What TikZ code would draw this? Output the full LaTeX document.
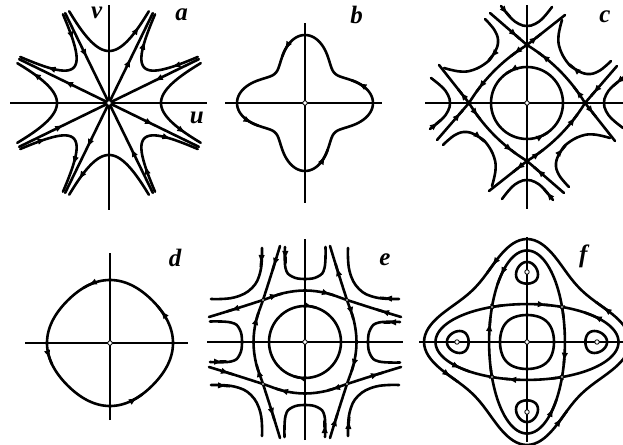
\documentclass[tikz,border=0pt]{standalone}
\usepackage{fontspec}
\setmainfont{Liberation Serif}
\usetikzlibrary{arrows.meta,decorations.markings}
\tikzset{
  curve/.style={line width=2.6pt,line cap=round,line join=round},
  axisline/.style={line width=1.4pt},
  mk/.style={decoration={markings,#1},postaction={decorate}},
  amid/.style={mk={mark=at position #1 with {\arrow{Latex[length=9pt,width=6.5pt]}}}},
  amid/.default=0.5,
  odot/.style={circle,draw,fill=white,line width=0.8pt,inner sep=0pt,minimum size=4.5pt},
  lbl/.style={font=\fontsize{25}{25}\selectfont\bfseries\itshape,inner sep=0pt},
}
\newcommand{\tipA}{\arrow{Latex[length=9pt,width=6.5pt]}}
% arrow head at (#1,#2) pointing in direction #3 (degrees)
\newcommand{\arw}[3]{\draw[curve,amid,shift={(#1,#2)}] ({#3+180}:3) -- ({#3}:3);}
\begin{document}
\begin{tikzpicture}[x=1pt,y=1pt,
 declare function={
  axr(\z)=52+48*\z*\z;
  axphi(\z)=(1-2*(\z<0))*acos(max(-1,min(1,(52/axr(\z))^3*1.242-0.242)))/4;
  dgr(\z)=50+50*\z*\z;
  dgphi(\z)=45-(1-2*(\z<0))*(45-acos(max(-1,min(1,-0.242-(50/dgr(\z))^3*0.758)))/4);
  cf(\ang)=1-cos(4*\ang)/3;
  fin(\ang,\lev)=57.2*sqrt(2*\lev/(1+sqrt(max(0,1-2*\lev*cf(\ang)))));
  fout(\ang,\lev)=57.2*sqrt((1+sqrt(max(0,1-2*\lev*cf(\ang))))/cf(\ang));
  tds(\z)=1.5+0.45826*cos(\z);
  tdphi(\z)=(1-2*(sin(\z)<0))*acos(max(-1,min(1,3*(1-2*(tds(\z)-0.68)/(tds(\z)^2)))))/4;
  br(\ang)=55+13*cos(4*\ang);
  dr(\ang)=61.5+1.5*cos(4*\ang);
 }]
\useasboundingbox[fill=white] (0,0) rectangle (623,444);

% ---------------- panel a ----------------
\begin{scope}[shift={(109,341)}]
 \draw[axisline] (-99,0) -- (98,0);
 \draw[axisline] (0,-107) -- (0,98);
 \foreach \k in {0,90,180,270}{
  \begin{scope}[rotate=\k]
   \draw[curve,amid] (26:100) -- (0,0);
   \draw[curve,amid] (0,0) -- (64:100);
   \draw[curve,amid=0.85] plot[domain=1:-1,samples=61,variable=\q] ({axphi(\q)}:{axr(\q)});
   \draw[curve,mk={mark=at position 0.25 with {\tipA},mark=at position 0.75 with {\tipA}}]
     plot[domain=1:-1,samples=61,variable=\q] ({dgphi(\q)}:{dgr(\q)});
  \end{scope}
 }
 \node[odot] (oa) at (0,0) {};
\end{scope}
\node[lbl] (la) at (181.7,429) {a};
\node[lbl] (lv) at (96.7,430.7) {v};
\node[lbl] (lu) at (196.7,325.7) {u};

% ---------------- panel b ----------------
\begin{scope}[shift={(305,341)}]
 \draw[axisline] (-80,0) -- (77,0);
 \draw[axisline] (0,-100) -- (0,80);
 \draw[curve] plot[domain=0:360,samples=181,variable=\x] (\x:{br(\x)}) -- cycle;
 \draw[curve,amid] plot[domain=16:26,samples=5,variable=\x] (\x:{br(\x)});
 \draw[curve,amid] plot[domain=106:116,samples=5,variable=\x] (\x:{br(\x)});
 \draw[curve,amid] plot[domain=196:206,samples=5,variable=\x] (\x:{br(\x)});
 \draw[curve,amid] plot[domain=286:296,samples=5,variable=\x] (\x:{br(\x)});
 \node[odot] (ob) at (0,0) {};
\end{scope}
\node[lbl] (lb) at (356.7,429) {b};

% ---------------- panel c ----------------
\begin{scope}[shift={(527,341)}]
 \draw[axisline] (-102,0) -- (96,0);
 \draw[axisline] (0,-106) -- (0,98);
 \draw[curve] (0,0) circle (36);
 \arw{-18}{31.2}{210}
 \arw{18}{-31.2}{30}
 \foreach \k in {0,90,180,270}{
  \begin{scope}[rotate=\k]
   \draw[curve] (58,0) .. controls (43.3,24) and (24,43.3) .. (0,58);
   \arw{13.8}{48.6}{143}
   \arw{48.6}{13.8}{127}
   \draw[curve] (-37,90) -- (0,58);
   \arw{-9.3}{66}{-41}
   \draw[curve] (0,58) -- (38,88);
   \arw{11.4}{67}{38}
   \draw[curve] plot[smooth,tension=0.7] coordinates {(-26,97) (-16,85) (-8,79) (0,77) (8,79) (16,85) (25,96)};
   \arw{-19}{88.5}{-50}
   \draw[curve] plot[smooth,tension=0.7] coordinates {(-42,84) (-32,72) (-29,60) (-34,48) (-41,40) (-54,33) (-67,31.5) (-83,35)};
   \arw{-36.5}{45}{230}
  \end{scope}
 }
 \node[odot] (oc) at (0,0) {};
\end{scope}
\node[lbl] (lc) at (605,427.3) {c};

% ---------------- panel d ----------------
\begin{scope}[shift={(110,101)}]
 \draw[axisline] (-85,0) -- (78,0);
 \draw[axisline] (0,-77) -- (0,90);
 \draw[curve] plot[domain=0:360,samples=181,variable=\x] (\x:{dr(\x)}) -- cycle;
 \draw[curve,amid] plot[domain=28:38,samples=5,variable=\x] (\x:{dr(\x)});
 \draw[curve,amid] plot[domain=106:116,samples=5,variable=\x] (\x:{dr(\x)});
 \draw[curve,amid] plot[domain=190:200,samples=5,variable=\x] (\x:{dr(\x)});
 \draw[curve,amid] plot[domain=292:302,samples=5,variable=\x] (\x:{dr(\x)});
 \node[odot] (od) at (0,0) {};
\end{scope}
\node[lbl] (ld) at (175,185.7) {d};

% ---------------- panel e ----------------
\begin{scope}[shift={(305,102)}]
 \draw[axisline] (-98,0) -- (98,0);
 \draw[axisline] (0,-98) -- (0,103);
 \draw[curve] (0,0) circle (36);
 \arw{8.1}{35.1}{-13}
 \arw{-8.1}{-35.1}{167}
 \foreach \k in {0,90,180,270}{
  \begin{scope}[rotate=\k]
   \draw[curve] plot[smooth,tension=0.6] coordinates {(-96,25) (-70,33) (-42,42) (-21,49) (0,51.5) (21,49) (42,42) (70,33) (96,25)};
   \arw{-75}{31.5}{197}
   \arw{-26}{47.5}{16}
   \arw{26}{47.5}{-16}
   \arw{75}{31.5}{163}
   \draw[curve] plot[smooth,tension=0.7] coordinates {(-20,95) (-19.5,74) (-13,65.5) (0,63) (13,65.5) (19.5,74) (20.5,95)};
   \arw{-19.7}{82}{-90}
   \draw[curve] plot[smooth,tension=0.7] coordinates {(-43,94) (-44.5,71) (-53,54) (-71,44.5) (-94,43)};
   \arw{-44}{78}{-94}
  \end{scope}
 }
 \node[odot] (oe) at (0,0) {};
 \node[odot,minimum size=3.5pt] (se1) at (42,42) {};
 \node[odot,minimum size=3.5pt] (se2) at (-42,42) {};
 \node[odot,minimum size=3.5pt] (se3) at (-42,-42) {};
 \node[odot,minimum size=3.5pt] (se4) at (42,-42) {};
\end{scope}
\node[lbl] (le) at (385,184) {e};

% ---------------- panel f ----------------
\begin{scope}[shift={(527,102)}]
 \draw[axisline] (-108,0) -- (96,0);
 \draw[axisline] (0,-100) -- (0,105);
 \draw[curve] plot[domain=0:360,samples=181,variable=\x] (\x:{fin(\x,0.206)}) -- cycle;
 \draw[curve] plot[domain=0:360,samples=289,variable=\x] (\x:{fin(\x,0.375)}) -- cycle;
 \draw[curve] plot[domain=0:360,samples=289,variable=\x] (\x:{fout(\x,0.375)}) -- cycle;
 \draw[curve] plot[domain=0:360,samples=181,variable=\x] (\x:{fout(\x,-0.26)}) -- cycle;
 \foreach \k in {0,90,180,270}{
  \begin{scope}[rotate=\k]
   \draw[curve] plot[domain=0:360,samples=73,variable=\x] ({tdphi(\x)}:{57.2*sqrt(tds(\x))}) -- cycle;
   \draw[curve,amid] plot[domain=20:30,samples=5,variable=\x] (\x:{fout(\x,-0.26)});
   \draw[curve,amid] plot[domain=17:27,samples=5,variable=\x] (\x:{fout(\x,0.375)});
   \draw[curve,amid] plot[domain=40:34,samples=5,variable=\x] (\x:{fin(\x,0.375)});
   \draw[curve,amid] plot[domain=65:59,samples=5,variable=\x] (\x:{fin(\x,0.375)});
  \end{scope}
 }
 \node[odot] (of) at (0,0) {};
 \foreach \k in {0,90,180,270}{
  \node[odot,minimum size=4.5pt] (ft\k) at (\k:70) {};
  \node[odot,minimum size=3.5pt] (fs\k) at (\k+45:49.5) {};
 }
\end{scope}
\node[lbl] (lf) at (583.3,187.3) {f};
\end{tikzpicture}
\end{document}
